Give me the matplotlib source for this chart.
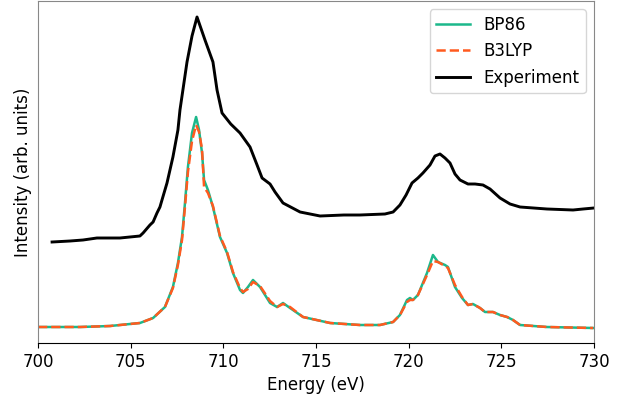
import matplotlib
matplotlib.use("Agg")
import matplotlib.pyplot as plt

# Experiment (energy eV, intensity arb.)
exp_x = [700.76, 701.73, 702.43, 703.18, 704.42, 704.96, 705.50, 705.67, 706.04, 706.21,
         706.42, 706.58, 706.69, 706.96, 707.28, 707.55, 707.66, 708.04, 708.31, 708.58,
         709.01, 709.44, 709.66, 709.93, 710.40, 710.90, 711.44, 711.82, 712.09, 712.52,
         712.79, 713.22, 714.14, 715.22, 716.50, 717.37, 718.72, 719.16, 719.53, 719.86,
         720.18, 720.50, 720.77, 721.15, 721.42, 721.69, 721.96, 722.23, 722.50, 722.77,
         723.20, 723.58, 724.01, 724.39, 724.93, 725.47, 726.01, 727.46, 728.87, 729.41,
         730.00]
exp_y = [85, 86, 87, 89, 89, 90, 91, 94, 102, 105,
         114, 120, 127, 144, 170, 197, 217, 265, 291, 310,
         287, 265, 237, 214, 203, 194, 180, 162, 149, 143,
         135, 124, 115, 111, 112, 112, 113, 115, 122, 132,
         144, 149, 154, 162, 171, 173, 169, 164, 153, 147,
         143, 143, 142, 138, 129, 123, 120, 118, 117, 118,
         119]

# Calculated spectra
calc_x = [700.00, 702.27, 703.89, 704.96, 705.50, 706.21, 706.85, 707.28, 707.55, 707.77,
          707.93, 708.09, 708.31, 708.53, 708.69, 708.85, 708.96, 709.17, 709.44, 709.82,
          710.20, 710.52, 710.90, 711.06, 711.33, 711.60, 711.98, 712.52, 712.90, 713.22,
          713.60, 714.30, 715.76, 717.37, 718.45, 719.16, 719.53, 719.91, 720.07, 720.23,
          720.50, 720.99, 721.31, 721.58, 721.96, 722.12, 722.50, 722.88, 723.20, 723.47,
          723.85, 724.12, 724.55, 724.93, 725.31, 725.63, 726.01, 727.46, 729.95]
bp86_y = [0, 0, 1, 3, 4, 9, 20, 40, 64, 90,
          124, 160, 194, 210, 197, 174, 147, 137, 120, 90,
          74, 54, 37, 34, 40, 47, 40, 24, 20, 24,
          19, 10, 4, 2, 2, 5, 12, 27, 29, 27,
          32, 54, 72, 65, 62, 60, 40, 29, 22, 23,
          19, 15, 15, 12, 10, 7, 2, 0, -1]
b3lyp_y = [0, 0, 1, 3, 4, 9, 20, 39, 62, 87,
           120, 155, 186, 202, 195, 178, 140, 134, 121, 91,
           75, 55, 39, 35, 38, 45, 41, 26, 20, 23,
           20, 10, 4, 2, 2, 5, 12, 25, 27, 27,
           32, 52, 66, 65, 61, 59, 42, 30, 22, 23,
           19, 15, 15, 12, 10, 7, 2, 0, -1]

fig = plt.figure(figsize=(6.38, 3.98), dpi=100)
ax = fig.add_axes([38/638, 55/398, 556/638, 342/398])

ax.plot(calc_x, bp86_y, color='#1cb88b', lw=1.8, label='BP86')
ax.plot(calc_x, b3lyp_y, color='#ff5a1f', lw=1.8, ls='--', label='B3LYP')
ax.plot(exp_x, exp_y, color='black', lw=2.1, label='Experiment')

ax.set_xlim(700, 730)
ax.set_ylim(-16, 326)
ax.set_xticks([700, 705, 710, 715, 720, 725, 730])
ax.set_yticks([])
ax.tick_params(axis='x', labelsize=12)
ax.set_xlabel('Energy (eV)', fontsize=12)
ax.set_ylabel('Intensity (arb. units)', fontsize=12)
for s in ['left', 'right', 'top']:
    ax.spines[s].set_color('#888888')
ax.legend(loc='upper right', fontsize=12)

fig.savefig('out.png', dpi=100)
